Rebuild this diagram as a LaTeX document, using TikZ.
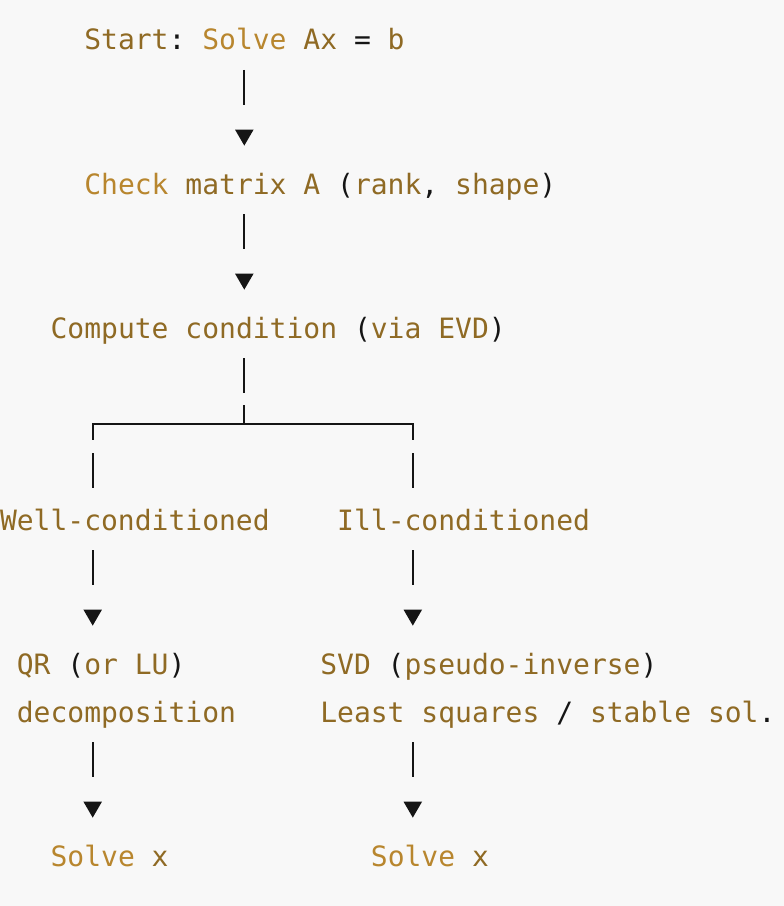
\documentclass[tikz,border=0pt]{standalone}
\usepackage{fontspec}
\newfontfamily\codefont{DejaVu Sans Mono}
\usetikzlibrary{arrows.meta}
\definecolor{bg}{HTML}{F8F8F8}
\definecolor{gold}{HTML}{B8862E}
\definecolor{brn}{HTML}{8F6A24}
\definecolor{ink}{HTML}{151515}
\newcommand\Lg[1]{\textcolor{gold}{#1}}
\newcommand\Dk[1]{\textcolor{brn}{#1}}
\newcommand\Pk[1]{\textcolor{ink}{#1}}
\frenchspacing
\begin{document}
\begin{tikzpicture}[x=0.75pt,y=-0.75pt,
  txt/.style={anchor=base west, inner sep=0pt, outer sep=0pt,
    font=\codefont\fontsize{21pt}{36pt}\selectfont\frenchspacing,
    text height=15.75pt, text depth=4.5pt, text=brn},
  link/.style={draw=ink, line width=1.5pt},
  vconn/.style={link, -{Triangle[width=13.5pt,length=12pt]},
    shorten <=10.5pt, shorten >=20.5pt, dash pattern=on 26.25pt off 60pt},
  teeconn/.style={link, shorten <=10.5pt,
    dash pattern=on 26.25pt off 9pt on 14.25pt off 50pt},
  leftbranch/.style={link, dash pattern=on 125.7pt off 9.75pt on 26.25pt off 60pt},
  rightbranch/.style={link, dash pattern=on 138.4pt off 9.75pt on 26.25pt off 60pt}
]
\fill[bg] (0,0) rectangle (784,906);
\useasboundingbox (0,0) rectangle (784,906);

% column axes
\coordinate (axis) at (244.3,0);
\coordinate (lcol) at (92.7,0);
\coordinate (rcol) at (412.8,0);
\coordinate (tee) at (244.3,424);

% text nodes
\node[txt] (start) at (84.3,50) {\Dk{Start}\Pk{:} \Lg{Solve} \Dk{Ax} \Pk{=} \Dk{b}};
\node[txt] (check) at (84.3,194) {\Lg{Check} \Dk{matrix A} \Pk{(}\Dk{rank}\Pk{,} \Dk{shape}\Pk{)}};
\node[txt] (compute) at (50.6,338) {\Dk{Compute condition} \Pk{(}\Dk{via EVD}\Pk{)}};
\node[txt] (well) at (0,530) {Well-conditioned};
\node[txt] (ill) at (337.2,530) {Ill-conditioned};
\node[txt] (qr) at (16.86,674) {\Dk{QR} \Pk{(}\Dk{or LU}\Pk{)}};
\node[txt] (qrb) at (16.86,722) {decomposition};
\node[txt] (svd) at (320.3,674) {\Dk{SVD} \Pk{(}\Dk{pseudo-inverse}\Pk{)}};
\node[txt] (svdb) at (320.3,722) {\Dk{Least squares} \Pk{/} \Dk{stable sol}\Pk{.}};
\node[txt] (solvel) at (50.6,866) {\Lg{Solve} \Dk{x}};
\node[txt] (solver) at (370.9,866) {\Lg{Solve} \Dk{x}};

% connectors
\draw[vconn] (start.south -| axis) -- (check.north -| axis);
\draw[vconn] (check.south -| axis) -- (compute.north -| axis);
\draw[teeconn] (compute.south -| axis) -- (tee);
\draw[leftbranch] (tee) -- (tee -| lcol) -- (well.north -| lcol);
\draw[rightbranch] (tee) -- (tee -| rcol) -- (ill.north -| rcol);
\draw[vconn] (well.south -| lcol) -- (qr.north -| lcol);
\draw[vconn] (ill.south -| rcol) -- (svd.north -| rcol);
\draw[vconn] (qrb.south -| lcol) -- (solvel.north -| lcol);
\draw[vconn] (svdb.south -| rcol) -- (solver.north -| rcol);
\end{tikzpicture}
\end{document}
